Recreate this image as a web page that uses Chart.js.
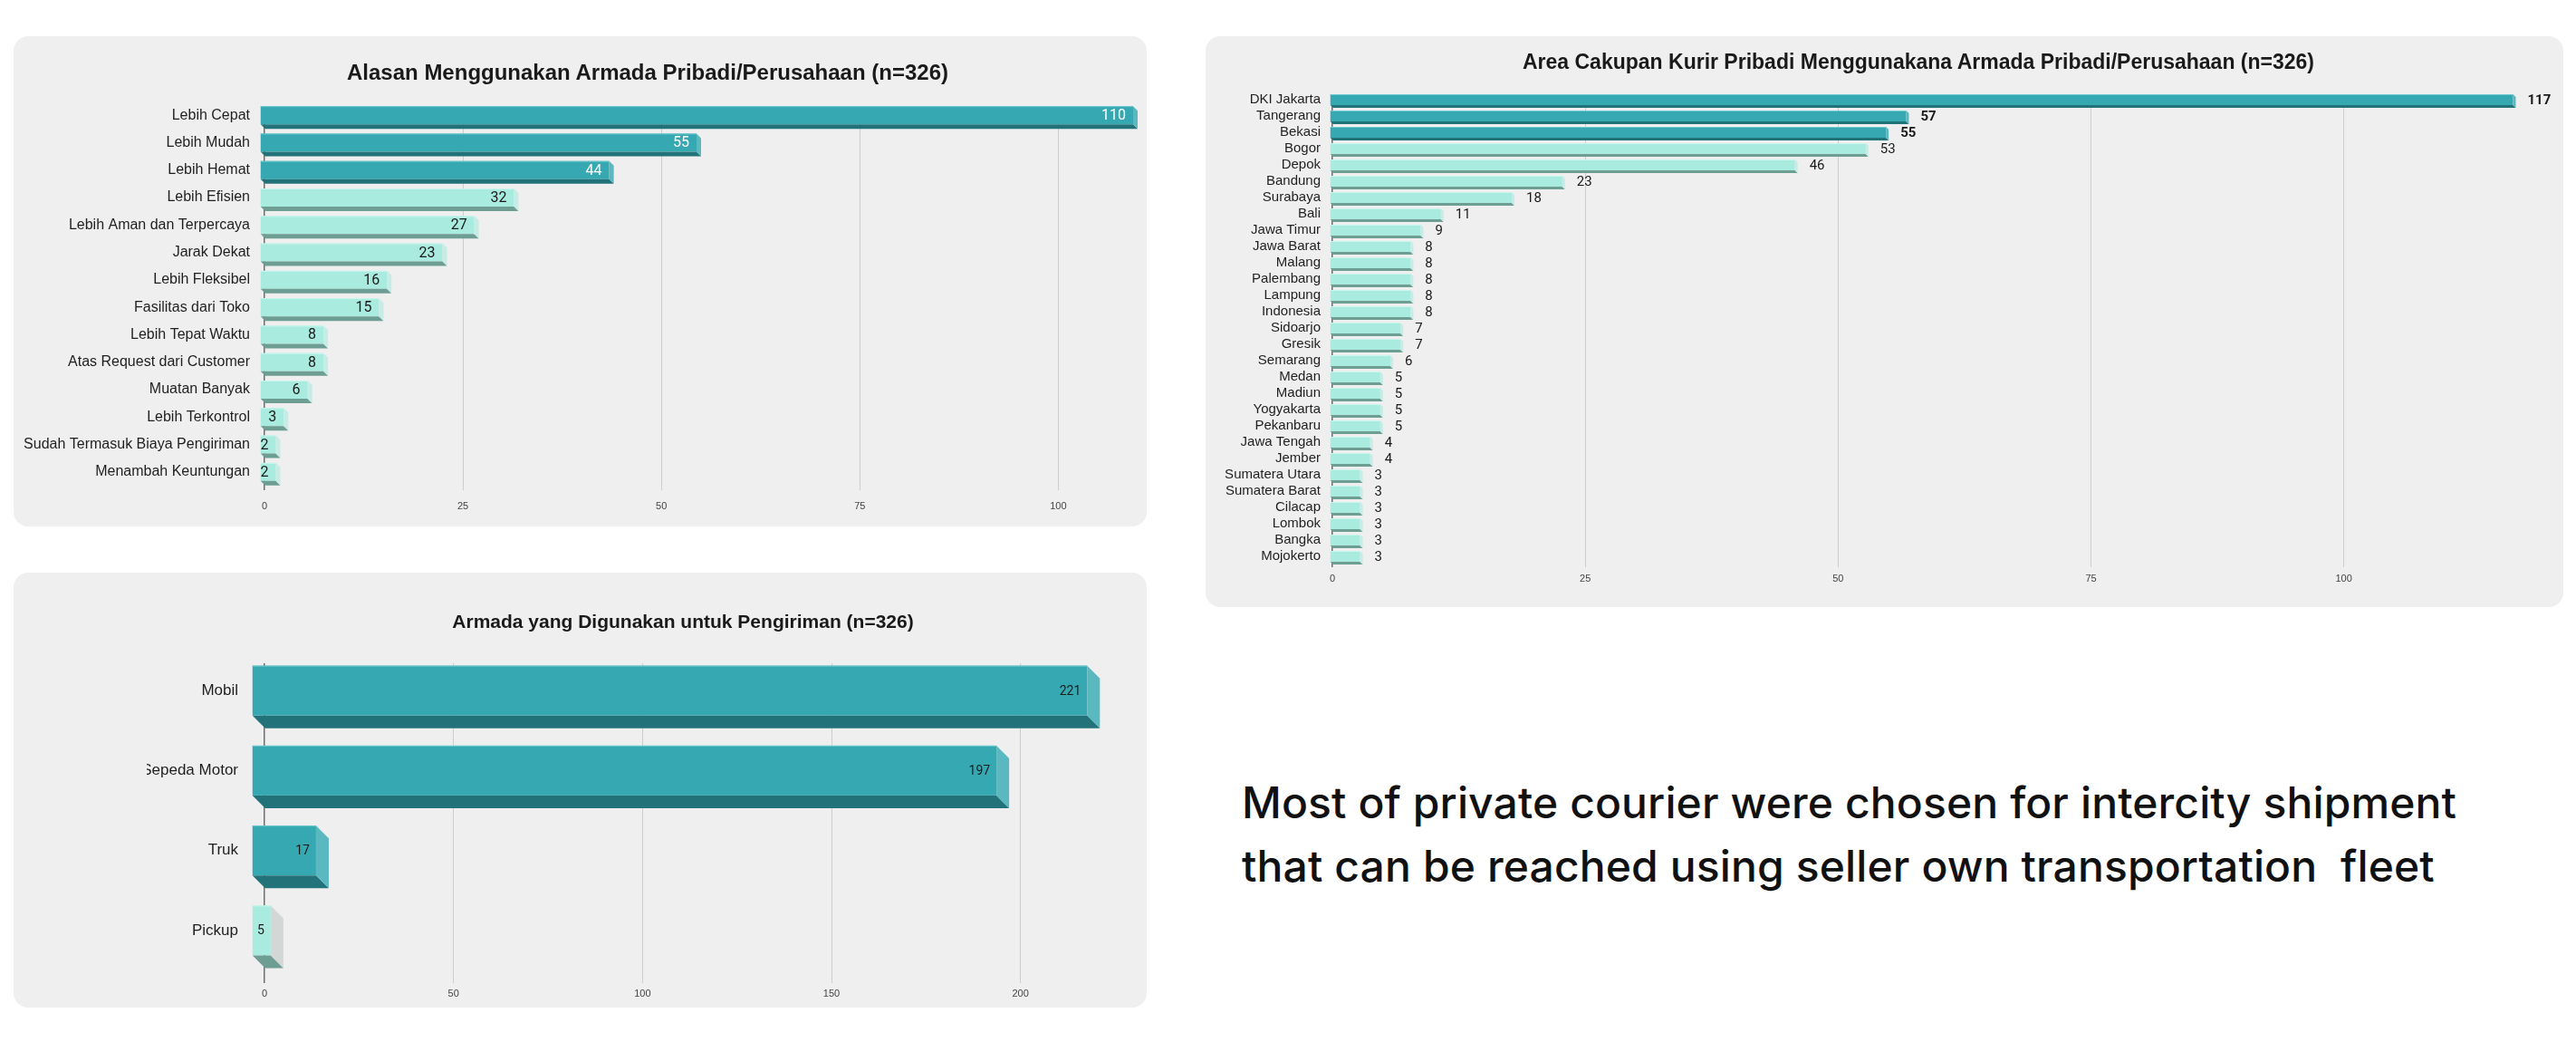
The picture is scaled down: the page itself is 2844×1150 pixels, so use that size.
<!DOCTYPE html>
<html>
<head>
<meta charset="utf-8">
<script src="https://cdn.jsdelivr.net/npm/chart.js@4.4.1/dist/chart.umd.min.js"></script>
<style>
  html, body { margin: 0; padding: 0; background: #fff; }
  body { width: 2844px; height: 1150px; position: relative; overflow: hidden; font-family: 'Liberation Sans', Arial, sans-serif; }
  .panel { position: absolute; background: #efefef; border-radius: 16px; overflow: hidden; }
  .panel canvas { position: absolute; top: 0; }
  .title { position: absolute; font-weight: bold; color: #1a1a1a; white-space: nowrap; line-height: 1; transform: translateX(-50%); }
  .note { position: absolute; left: 1371px; top: 851px; font-family: Inter, 'Noto Sans', sans-serif; font-weight: 500; font-size: 48px; line-height: 70px; color: #111; }
  .note span { display: inline-block; white-space: pre; }
</style>
</head>
<body>

<div class="panel" style="left:15px;top:40px;width:1251px;height:541px">
  <canvas id="reasonChart" width="1251" height="541" style="left:0"></canvas>
</div>
<div class="panel" style="left:1331px;top:40px;width:1499px;height:630px">
  <canvas id="areaChart" width="1499" height="630" style="left:0"></canvas>
</div>
<div class="panel" style="left:15px;top:632px;width:1251px;height:480px">
  <canvas id="fleetChart" width="1104" height="480" style="left:147px"></canvas>
</div>

<div class="title" style="left:715px;top:68px;font-size:24px">Alasan Menggunakan Armada Pribadi/Perusahaan (n=326)</div>
<div class="title" style="left:2118px;top:57px;font-size:23px">Area Cakupan Kurir Pribadi Menggunakana Armada Pribadi/Perusahaan (n=326)</div>
<div class="title" style="left:754px;top:675px;font-size:21px">Armada yang Digunakan untuk Pengiriman (n=326)</div>

<div class="note"><span id="line1">Most of private courier were chosen for intercity shipment</span><br><span id="line2">that can be reached using seller own transportation  fleet</span></div>

<script>
// --- data ---
const reasonLabels = ['Lebih Cepat', 'Lebih Mudah', 'Lebih Hemat', 'Lebih Efisien', 'Lebih Aman dan Terpercaya',
  'Jarak Dekat', 'Lebih Fleksibel', 'Fasilitas dari Toko', 'Lebih Tepat Waktu', 'Atas Request dari Customer',
  'Muatan Banyak', 'Lebih Terkontrol', 'Sudah Termasuk Biaya Pengiriman', 'Menambah Keuntungan'];
const reasonValues = [110, 55, 44, 32, 27, 23, 16, 15, 8, 8, 6, 3, 2, 2];

const areaLabels = ['DKI Jakarta', 'Tangerang', 'Bekasi', 'Bogor', 'Depok', 'Bandung', 'Surabaya', 'Bali',
  'Jawa Timur', 'Jawa Barat', 'Malang', 'Palembang', 'Lampung', 'Indonesia', 'Sidoarjo', 'Gresik', 'Semarang',
  'Medan', 'Madiun', 'Yogyakarta', 'Pekanbaru', 'Jawa Tengah', 'Jember', 'Sumatera Utara', 'Sumatera Barat',
  'Cilacap', 'Lombok', 'Bangka', 'Mojokerto'];
const areaValues = [117, 57, 55, 53, 46, 23, 18, 11, 9, 8, 8, 8, 8, 8, 7, 7, 6, 5, 5, 5, 5, 4, 4, 3, 3, 3, 3, 3, 3];

const fleetLabels = ['Mobil', 'Sepeda Motor', 'Truk', 'Pickup'];
const fleetValues = [221, 197, 17, 5];

// --- colours ---
const TEAL = { face: '#36a8b2', bottom: '#22727a', side: '#5ab9c0', edge: '#6fcad0' };
const MINT = { face: '#a9ecdf', bottom: '#6e9d94', side: '#c6ece5', edge: '#c9f6ee' };
const MINT_GREY = { face: '#a9ecdf', bottom: '#6e9d94', side: '#d3d8d7', edge: '#c9f6ee' };

// draws each bar as an extruded block: front face shifted up-left by `depth`
const bar3d = {
  id: 'bar3d',
  afterDatasetsDraw(chart, args, opts) {
    const ctx = chart.ctx;
    const meta = chart.getDatasetMeta(0);
    const values = chart.data.datasets[0].data;
    const d = opts.depth;
    meta.data.forEach((el, i) => {
      const { x, y, base, height } = el.getProps(['x', 'y', 'base', 'height'], true);
      const hi = i < opts.highlight;
      const c = opts.colors(i, hi);
      const top = y - height / 2;
      const bot = y + height / 2;
      const L = base, R = x;
      ctx.save();
      ctx.fillStyle = c.face;
      ctx.fillRect(L - d, top - d, R - L, height);
      ctx.fillStyle = c.bottom;
      ctx.beginPath();
      ctx.moveTo(L - d, bot - d); ctx.lineTo(R - d, bot - d); ctx.lineTo(R, bot); ctx.lineTo(L, bot);
      ctx.closePath(); ctx.fill();
      ctx.fillStyle = c.side;
      ctx.beginPath();
      ctx.moveTo(R - d, top - d); ctx.lineTo(R, top); ctx.lineTo(R, bot); ctx.lineTo(R - d, bot - d);
      ctx.closePath(); ctx.fill();
      ctx.fillStyle = c.edge;
      ctx.fillRect(L - d, top - d, R - L, 1);

      // value label
      const bold = opts.boldHighlight && hi;
      ctx.font = (bold ? '700 ' : '400 ') + opts.fontSize + 'px Roboto, "Liberation Sans", sans-serif';
      ctx.textBaseline = 'middle';
      ctx.fillStyle = opts.labelColor(hi);
      const cy = y - d + 1;
      if (opts.inside) {
        ctx.textAlign = 'right';
        ctx.fillText(String(values[i]), R - d - opts.pad, cy);
      } else {
        ctx.textAlign = 'left';
        ctx.fillText(String(values[i]), R + opts.pad, cy);
      }
      ctx.restore();
    });
  }
};

function makeChart(id, labels, values, cfg) {
  return new Chart(document.getElementById(id), {
    type: 'bar',
    data: {
      labels,
      datasets: [{
        data: values,
        backgroundColor: 'rgba(0,0,0,0)',
        borderWidth: 0,
        barThickness: cfg.thickness,
      }],
    },
    plugins: [bar3d],
    options: {
      indexAxis: 'y',
      responsive: false,
      animation: false,
      layout: { padding: { left: 0, right: cfg.padRight, top: cfg.padTop, bottom: 0 } },
      plugins: {
        legend: { display: false },
        tooltip: { enabled: false },
        title: { display: false },
        bar3d: cfg.bar3d,
      },
      scales: {
        x: {
          type: 'linear',
          min: 0,
          max: cfg.max,
          ticks: {
            stepSize: cfg.step,
            padding: cfg.xTickPad,
            color: '#444',
            font: { family: '"Liberation Sans", Arial, sans-serif', size: 11 },
          },
          afterBuildTicks(scale) {
            scale.ticks = scale.ticks.filter(t => t.value % cfg.step === 0);
          },
          afterFit(scale) { scale.height = cfg.xHeight; },
          grid: {
            drawTicks: false,
            color: c => (c.tick && c.tick.value === 0 ? '#6f6f6f' : '#cdcdcd'),
            lineWidth: c => (c.tick && c.tick.value === 0 ? 1.5 : 1),
          },
          border: { display: false },
        },
        y: {
          type: 'category',
          ticks: {
            autoSkip: false,
            padding: cfg.yTickPad,
            labelOffset: -cfg.bar3d.depth,
            color: '#1f1f1f',
            font: { family: '"Liberation Sans", Arial, sans-serif', size: cfg.labelSize },
          },
          afterFit(scale) {
            scale.width = cfg.yWidth;
            // keep the label padding from eating into the plot area
            scale.paddingTop = 0;
            scale.paddingBottom = 0;
          },
          grid: { display: false, drawTicks: false },
          border: { display: false },
        },
      },
    },
  });
}

makeChart('reasonChart', reasonLabels, reasonValues, {
  thickness: 20, max: 110, step: 25,
  padRight: 10, padTop: 77, xHeight: 40, xTickPad: 11,
  yWidth: 277, yTickPad: 16, labelSize: 16,
  bar3d: {
    depth: 5, highlight: 3, inside: true, pad: 8, fontSize: 16, boldHighlight: false,
    colors: (i, hi) => (hi ? TEAL : MINT),
    labelColor: hi => (hi ? '#ffffff' : '#1a1a1a'),
  },
});

makeChart('areaChart', areaLabels, areaValues, {
  thickness: 12, max: 120, step: 25,
  padRight: 19, padTop: 64, xHeight: 44, xTickPad: 6,
  yWidth: 140, yTickPad: 13, labelSize: 15,
  bar3d: {
    depth: 3, highlight: 3, inside: false, pad: 13, fontSize: 15, boldHighlight: true,
    colors: (i, hi) => (hi ? TEAL : MINT),
    labelColor: () => '#1a1a1a',
  },
});

makeChart('fleetChart', fleetLabels, fleetValues, {
  thickness: 55, max: 225, step: 50,
  padRight: 35, padTop: 100, xHeight: 27, xTickPad: 5,
  yWidth: 130, yTickPad: 29, labelSize: 17,
  bar3d: {
    depth: 14, highlight: 3, inside: true, pad: 7, fontSize: 14, boldHighlight: false,
    colors: (i, hi) => (hi ? TEAL : MINT_GREY),
    labelColor: () => '#1a1a1a',
  },
});

// fit the note's first line to the reference width by adjusting letter spacing
(function fitNote() {
  const l1 = document.getElementById('line1');
  const l2 = document.getElementById('line2');
  const target = 1341;
  const w = l1.getBoundingClientRect().width;
  const ls = (target - w) / l1.textContent.length;
  l1.style.letterSpacing = ls + 'px';
  l2.style.letterSpacing = ls + 'px';
})();
</script>
</body>
</html>
